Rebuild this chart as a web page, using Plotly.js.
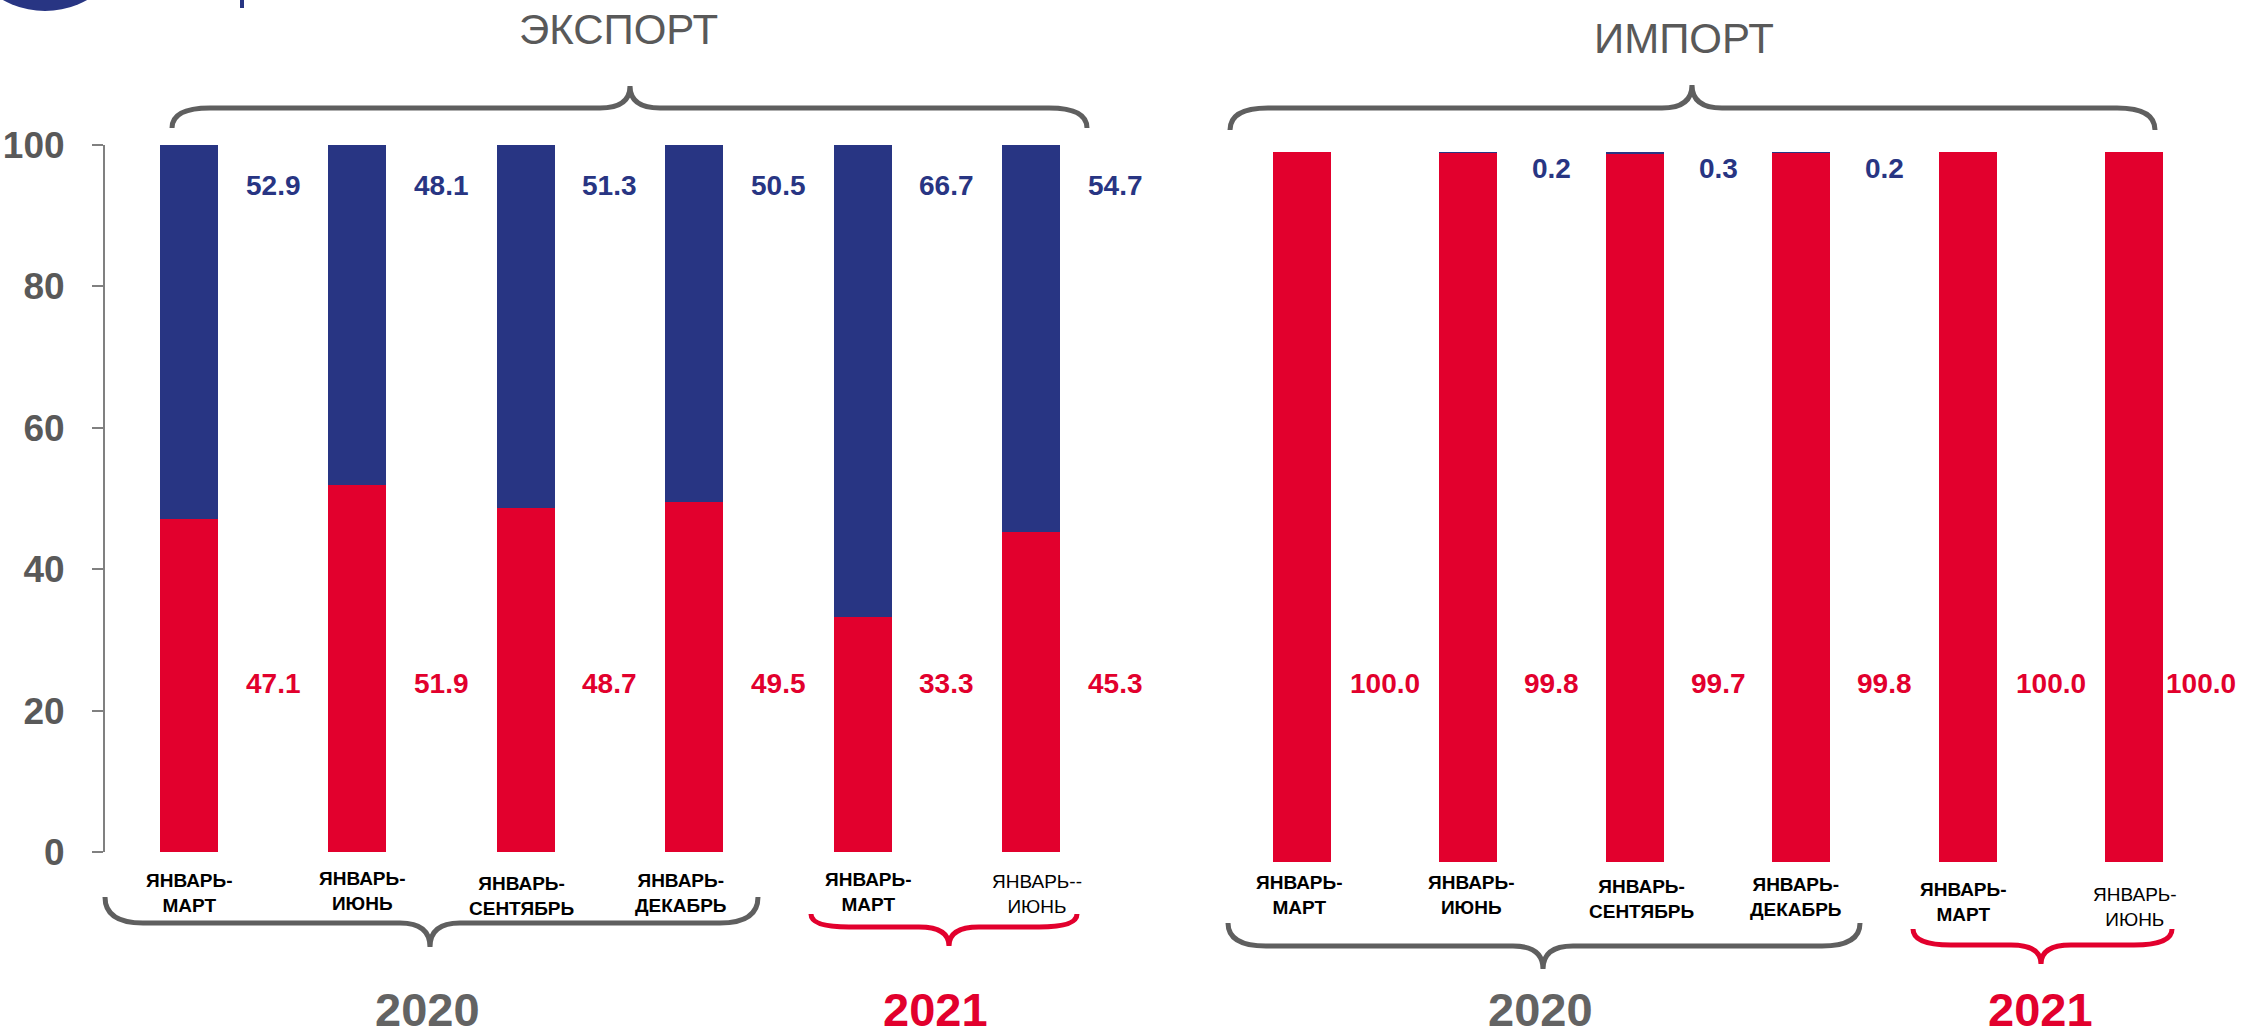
<!DOCTYPE html>
<html>
<head>
<meta charset="utf-8">
<script src="https://cdn.plot.ly/plotly-3.0.1.min.js"></script>
<style>
html,body{margin:0;padding:0;background:#fff;}
#chart{width:2242px;height:1036px;}
</style>
</head>
<body>
<div id="chart"></div>
<script>
// ---------------- DATA ----------------
var sectionTitles = ['ЭКСПОРТ', 'ИМПОРТ'];
var exportCategories = ['ЯНВАРЬ-<br>МАРТ', 'ЯНВАРЬ-<br>ИЮНЬ', 'ЯНВАРЬ-<br>СЕНТЯБРЬ', 'ЯНВАРЬ-<br>ДЕКАБРЬ', 'ЯНВАРЬ-<br>МАРТ', 'ЯНВАРЬ--<br>ИЮНЬ'];
var importCategories = ['ЯНВАРЬ-<br>МАРТ', 'ЯНВАРЬ-<br>ИЮНЬ', 'ЯНВАРЬ-<br>СЕНТЯБРЬ', 'ЯНВАРЬ-<br>ДЕКАБРЬ', 'ЯНВАРЬ-<br>МАРТ', 'ЯНВАРЬ-<br>ИЮНЬ'];
var exportRed  = [47.1, 51.9, 48.7, 49.5, 33.3, 45.3];
var exportBlue = [52.9, 48.1, 51.3, 50.5, 66.7, 54.7];
var importRed  = [100.0, 99.8, 99.7, 99.8, 100.0, 100.0];
var importBlue = [0, 0.2, 0.3, 0.2, 0, 0];
var yearLabels = ['2020', '2021'];
var yTicks = [0, 20, 40, 60, 80, 100];

// ---------------- STYLE ----------------
var W = 2242, H = 1036;
var RED = '#E2002D', BLUE = '#283583', GREY = '#636363', TXT = '#595959', AX = '#808080';
var FONT = 'Liberation Sans, Arial, sans-serif';
function px(x){ return x / W; }
function py(y){ return 1 - y / H; }

var idx = exportRed.map(function(_, i){ return i; });
var barW = 0.344;

var traces = [
  {type:'bar', x:idx, y:exportRed, xaxis:'x', yaxis:'y', marker:{color:RED}, width:barW, hoverinfo:'y'},
  {type:'bar', x:idx, y:exportBlue, xaxis:'x', yaxis:'y', marker:{color:BLUE}, width:barW, hoverinfo:'y'},
  {type:'bar', x:idx, y:importRed, xaxis:'x2', yaxis:'y2', marker:{color:RED}, width:0.349, hoverinfo:'y'},
  {type:'bar', x:idx, y:importBlue, xaxis:'x2', yaxis:'y2', marker:{color:BLUE}, width:0.349, hoverinfo:'y'}
];

var ann = [];
// value labels (placed between bars)
exportBlue.forEach(function(v, i){
  ann.push({xref:'x', yref:'paper', x:i+0.5, y:py(185), text:v.toFixed(1), showarrow:false,
    font:{family:FONT, size:28, color:BLUE, weight:'bold'}, xanchor:'center', yanchor:'middle'});
});
exportRed.forEach(function(v, i){
  ann.push({xref:'x', yref:'paper', x:i+0.5, y:py(683), text:v.toFixed(1), showarrow:false,
    font:{family:FONT, size:28, color:RED, weight:'bold'}, xanchor:'center', yanchor:'middle'});
});
importBlue.forEach(function(v, i){
  if (v > 0) ann.push({xref:'x2', yref:'paper', x:i+0.5, y:py(168), text:v.toFixed(1), showarrow:false,
    font:{family:FONT, size:28, color:BLUE, weight:'bold'}, xanchor:'center', yanchor:'middle'});
});
importRed.forEach(function(v, i){
  ann.push({xref:'x2', yref:'paper', x:i+0.5, y:py(683), text:v.toFixed(1), showarrow:false,
    xshift: (i === importRed.length - 1) ? -16 : 0,
    font:{family:FONT, size:28, color:RED, weight:'bold'}, xanchor:'center', yanchor:'middle'});
});

// category labels (staggered like the original)
var expLabPos = [[0, 893], [5, 890.5], [-4, 895.5], [-13, 892.5], [6, 892], [6, 894]];
var impLabPos = [[-3, 895], [3, 894.5], [7, 899], [-5, 897], [-4, 902], [1, 907]];
exportCategories.forEach(function(c, i){
  ann.push({xref:'x', yref:'paper', x:i, y:py(expLabPos[i][1]), xshift:expLabPos[i][0], text:c, showarrow:false,
    font:{family:FONT, size:19, color:'#000', weight:(i === 5 ? 'normal' : 'bold')}, xanchor:'center', yanchor:'middle', align:'center'});
});
importCategories.forEach(function(c, i){
  ann.push({xref:'x2', yref:'paper', x:i, y:py(impLabPos[i][1]), xshift:impLabPos[i][0], text:c, showarrow:false,
    font:{family:FONT, size:19, color:'#000', weight:(i === 5 ? 'normal' : 'bold')}, xanchor:'center', yanchor:'middle', align:'center'});
});

// section titles
ann.push({xref:'paper', yref:'paper', x:px(618), y:py(29), text:sectionTitles[0], showarrow:false,
  font:{family:FONT, size:42, color:TXT}, xanchor:'center', yanchor:'middle'});
ann.push({xref:'paper', yref:'paper', x:px(1684), y:py(38), text:sectionTitles[1], showarrow:false,
  font:{family:FONT, size:42, color:TXT}, xanchor:'center', yanchor:'middle'});

// year labels
var yearPos = [[427, 1009, GREY, 0], [935, 1009, RED, 1], [1540, 1009, GREY, 0], [2040, 1009, RED, 1]];
yearPos.forEach(function(p){
  ann.push({xref:'paper', yref:'paper', x:px(p[0]), y:py(p[1]), text:yearLabels[p[3]], showarrow:false,
    font:{family:FONT, size:47, color:p[2], weight:'bold'}, xanchor:'center', yanchor:'middle'});
});

// braces
function P(x, y){ return px(x).toFixed(5) + ',' + py(y).toFixed(5); }
function brace(x1, x2, cx, yEnd, yLine, yTip, color){
  var r = 38, rt = 30;
  var d = 'M ' + P(x1, yEnd) +
    ' Q ' + P(x1, yLine) + ' ' + P(x1 + r, yLine) +
    ' L ' + P(cx - rt, yLine) +
    ' Q ' + P(cx, yLine) + ' ' + P(cx, yTip) +
    ' Q ' + P(cx, yLine) + ' ' + P(cx + rt, yLine) +
    ' L ' + P(x2 - r, yLine) +
    ' Q ' + P(x2, yLine) + ' ' + P(x2, yEnd);
  return {type:'path', xref:'paper', yref:'paper', path:d, line:{color:color, width:5}, fillcolor:'rgba(0,0,0,0)'};
}

var shapes = [
  brace(172, 1087, 630, 128, 108, 86, '#5f5f5f'),
  brace(1230, 2155, 1692, 130, 108, 85, '#5f5f5f'),
  brace(105, 758, 430, 897, 923, 947, '#5f5f5f'),
  brace(811, 1077, 949, 914, 927, 946, RED),
  brace(1228, 1860, 1543, 923, 946, 969, '#5f5f5f'),
  brace(1913, 2172, 2041, 929, 945, 964, RED),
  // cropped logo fragment at top-left
  {type:'circle', xref:'paper', yref:'paper', x0:px(-41), x1:px(131), y0:py(11), y1:py(-161), fillcolor:BLUE, line:{width:0}},
  {type:'rect', xref:'paper', yref:'paper', x0:px(240), x1:px(244), y0:py(8), y1:py(0), fillcolor:BLUE, line:{width:0}}
];

var layout = {
  width: W, height: H,
  margin: {l:0, r:0, t:0, b:0},
  paper_bgcolor: '#fff', plot_bgcolor: 'rgba(0,0,0,0)',
  barmode: 'stack',
  showlegend: false,
  xaxis: {domain:[px(105), px(1200)], range:[-0.499, 6.004], showticklabels:false, ticks:'', showgrid:false, zeroline:false, showline:false, fixedrange:true},
  yaxis: {domain:[py(852), py(145)], range:[0, 100], tickvals:yTicks, ticks:'outside', ticklen:11, tickwidth:2, tickcolor:AX,
          showline:true, linewidth:2, linecolor:AX, showgrid:false, zeroline:false, ticklabelstandoff:20,
          tickfont:{family:FONT, size:37, color:TXT, weight:'bold'}, fixedrange:true},
  xaxis2: {domain:[px(1220), 1], range:[-0.4928, 5.649], anchor:'y2', showticklabels:false, ticks:'', showgrid:false, zeroline:false, showline:false, fixedrange:true},
  yaxis2: {domain:[py(862), py(152)], range:[0, 100], anchor:'x2', visible:false, showgrid:false, zeroline:false, fixedrange:true},
  annotations: ann,
  shapes: shapes
};

Plotly.newPlot('chart', traces, layout, {displayModeBar:false, staticPlot:true});
</script>
</body>
</html>
